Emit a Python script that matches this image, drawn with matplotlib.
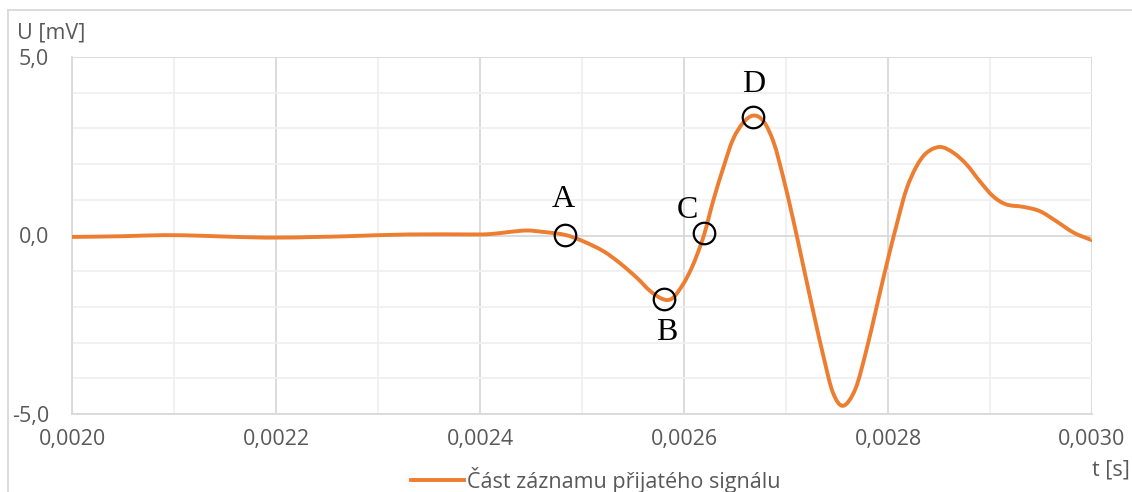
import matplotlib
matplotlib.use("Agg")
import matplotlib.pyplot as plt
from matplotlib.ticker import MultipleLocator, FixedLocator, FixedFormatter
from matplotlib.lines import Line2D
from matplotlib.path import Path
from matplotlib.patches import PathPatch

# ---------------- data ----------------
time_s = [0.00200, 0.00205, 0.00209, 0.00213, 0.00219, 0.00224, 0.00227,
          0.00233, 0.00239, 0.00241, 0.002429, 0.002446, 0.002462, 0.002483,
          0.002501, 0.002521, 0.002537, 0.002554, 0.002567, 0.002580,
          0.002589, 0.002599, 0.002606, 0.002612, 0.002620, 0.002629,
          0.002639, 0.002648, 0.002658, 0.002668, 0.002678, 0.002688,
          0.002697, 0.002707, 0.002717, 0.002727, 0.002737, 0.002746,
          0.002756, 0.002768, 0.002779, 0.002789, 0.002799,
          0.002809, 0.002818, 0.002828, 0.002838, 0.002851, 0.002864,
          0.002877, 0.002890, 0.002903, 0.002916, 0.002933, 0.002949,
          0.002965, 0.002982, 0.002998, 0.003000]
voltage_mV = [-0.04, -0.02, 0.01, -0.01, -0.06, -0.04, -0.02,
              0.03, 0.03, 0.04, 0.10, 0.14, 0.10, 0.02,
              -0.16, -0.44, -0.77, -1.19, -1.56, -1.79,
              -1.75, -1.37, -1.00, -0.60, 0.05, 1.01,
              1.94, 2.69, 3.16, 3.36, 3.20, 2.60,
              1.66, 0.45, -0.86, -2.17, -3.42, -4.40,
              -4.77, -4.30, -3.19, -1.98, -0.77,
              0.36, 1.29, 1.94, 2.32, 2.48, 2.32,
              1.99, 1.52, 1.10, 0.87, 0.80, 0.68,
              0.40, 0.08, -0.11, -0.12]

point_labels = ["A", "B", "C", "D"]
point_t = [0.002483, 0.002580, 0.002620, 0.002668]
point_u = [0.02, -1.79, 0.07, 3.33]

x_ticks = [0.0020, 0.0022, 0.0024, 0.0026, 0.0028, 0.0030]
x_tick_labels = ["0,0020", "0,0022", "0,0024", "0,0026", "0,0028", "0,0030"]
y_ticks = [-5.0, 0.0, 5.0]
y_tick_labels = ["-5,0", "0,0", "5,0"]

series_name = "Část záznamu přijatého signálu"
x_title = "t [s]"
y_title = "U [mV]"

# ---------------- drawing ----------------
W, H = 1132, 492
fig = plt.figure(figsize=(W / 100, H / 100), dpi=100)
ax = fig.add_axes([72 / W, 1 - 414 / H, (1092 - 72) / W, (414 - 57) / H])

txt_color = "#595959"
font = "Open Sans"
orange = "#ED7D31"
major_grid = "#d9d9d9"
minor_grid = "#f0f0f0"

ax.set_xlim(0.0020, 0.0030)
ax.set_ylim(-5, 5)

ax.xaxis.set_major_locator(FixedLocator(x_ticks))
ax.xaxis.set_major_formatter(FixedFormatter(x_tick_labels))
ax.xaxis.set_minor_locator(MultipleLocator(0.0001))
ax.yaxis.set_major_locator(FixedLocator(y_ticks))
ax.yaxis.set_major_formatter(FixedFormatter(y_tick_labels))
ax.yaxis.set_minor_locator(MultipleLocator(1))

ax.grid(which="major", color=major_grid, linewidth=1.3, zorder=0)
ax.grid(which="minor", color=minor_grid, linewidth=1.3, zorder=0)
ax.set_axisbelow(True)

for s in ["top", "right"]:
    ax.spines[s].set_visible(False)
for s in ["left", "bottom"]:
    ax.spines[s].set_color(major_grid)
    ax.spines[s].set_linewidth(1.3)

ax.tick_params(axis="both", which="both", length=0)
ax.tick_params(axis="x", pad=11, labelsize=15.5, labelcolor=txt_color)
ax.tick_params(axis="y", pad=16.5, labelsize=15.5, labelcolor=txt_color)
for lab in ax.get_xticklabels() + ax.get_yticklabels():
    lab.set_family(font)

# smoothed line (Excel-style Catmull-Rom rendered as cubic Bezier segments,
# in data coordinates so it goes through the axes' scales)
n = len(time_s)
verts = [(time_s[0], voltage_mV[0])]
codes = [Path.MOVETO]
for i in range(n - 1):
    p0 = (time_s[max(i - 1, 0)], voltage_mV[max(i - 1, 0)])
    p1 = (time_s[i], voltage_mV[i])
    p2 = (time_s[i + 1], voltage_mV[i + 1])
    p3 = (time_s[min(i + 2, n - 1)], voltage_mV[min(i + 2, n - 1)])
    c1 = (p1[0] + (p2[0] - p0[0]) / 6, p1[1] + (p2[1] - p0[1]) / 6)
    c2 = (p2[0] - (p3[0] - p1[0]) / 6, p2[1] - (p3[1] - p1[1]) / 6)
    verts += [c1, c2, p2]
    codes += [Path.CURVE4, Path.CURVE4, Path.CURVE4]
curve = PathPatch(Path(verts, codes), facecolor="none", edgecolor=orange,
                  linewidth=2.8, joinstyle="round", capstyle="butt",
                  zorder=3, transform=ax.transData)
ax.add_patch(curve)

ax.plot(point_t, point_u, linestyle="none", marker="o", markersize=15.5,
        markerfacecolor="none", markeredgecolor="black",
        markeredgewidth=1.6, zorder=4)

label_offsets = {"A": (-1, 20), "B": (2, -29), "C": (-12, 11), "D": (0, 18)}
for name, tx, uy in zip(point_labels, point_t, point_u):
    dx, dy = label_offsets[name]
    ax.annotate(name, (tx, uy), xytext=(dx, dy), textcoords="offset points",
                ha="center", va="baseline", fontsize=23,
                family="Liberation Serif", color="black", zorder=5)

fig.text(17 / W, 1 - 33 / H, y_title, ha="left", va="center",
         fontsize=15.5, color=txt_color, family=font)
fig.text(1130 / W, 1 - 470 / H, x_title, ha="right", va="center",
         fontsize=15.5, color=txt_color, family=font)

handle = Line2D([], [], color=orange, linewidth=2.8)
fig.legend([handle], [series_name], loc="center",
           bbox_to_anchor=(596 / W, 1 - 480 / H), frameon=False,
           prop={"family": font, "size": 15.5}, labelcolor=txt_color,
           handlelength=2.45, handletextpad=0.15, borderpad=0,
           borderaxespad=0)

# chart-area border (left and top edges visible in the reference)
fig.add_artist(Line2D([8 / W, 8 / W], [0, 1 - 10 / H], transform=fig.transFigure,
                      color=major_grid, linewidth=1.3))
fig.add_artist(Line2D([8 / W, 1], [1 - 10 / H, 1 - 10 / H], transform=fig.transFigure,
                      color=major_grid, linewidth=1.3))

fig.savefig("out.png", dpi=100)
